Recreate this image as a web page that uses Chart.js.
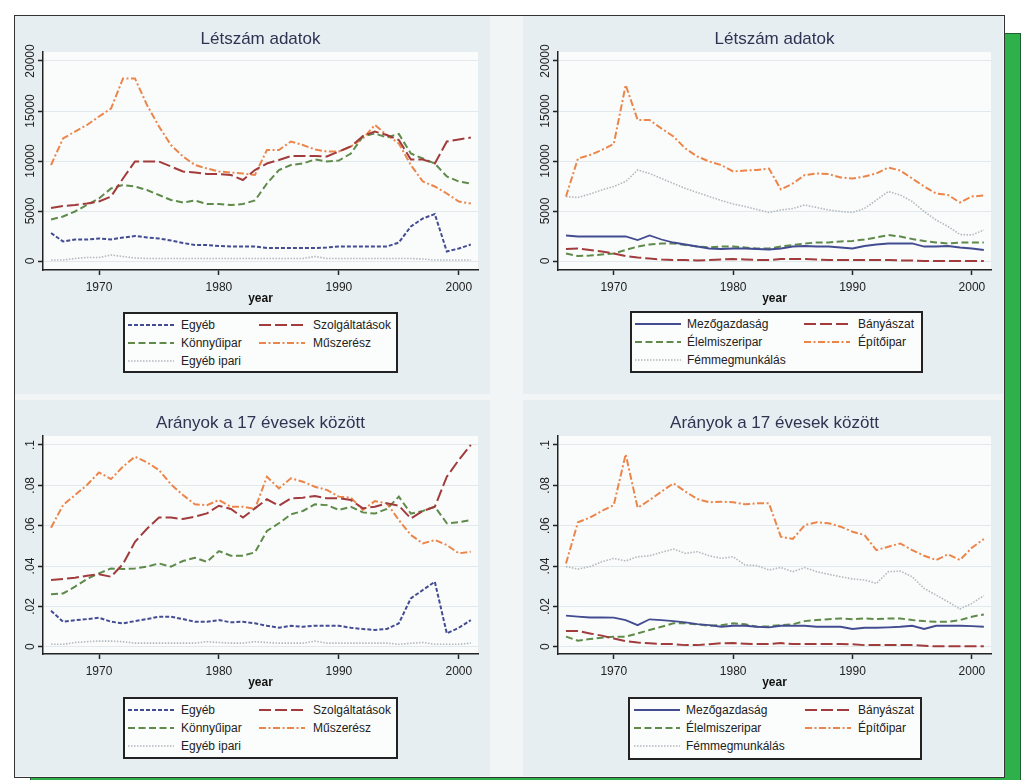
<!DOCTYPE html>
<html><head><meta charset="utf-8">
<script src="https://cdn.jsdelivr.net/npm/chart.js@4.4.1/dist/chart.umd.min.js"></script>
<style>
html,body{margin:0;padding:0;background:#fff;width:1023px;height:780px;overflow:hidden;font-family:'Liberation Sans',Arial,sans-serif;}
#green{position:absolute;left:30px;top:33px;width:991px;height:760px;background:#2eb04b;border:1px solid #1f5f31;box-sizing:border-box;}
#frame{position:absolute;left:14px;top:15px;width:991px;height:763px;background:#f1f5f6;border:1.5px solid #333;box-sizing:border-box;}
.panel{position:absolute;background:#e6eef1;}
.panel canvas{position:absolute;left:0;top:0;}
.legend{position:absolute;background:#fbfcfc;border:2px solid #222;box-sizing:border-box;}
.li{position:absolute;font-size:12px;line-height:14px;height:14px;color:#222;white-space:nowrap;}
.ls{position:absolute;width:46px;height:6px;}
</style>
</head><body>
<div id="green"></div>
<div id="frame"></div>
<div class="panel" id="p1" style="left:15px;top:16px;width:475px;height:378px;"><canvas id="c1" width="475" height="300"></canvas></div>
<div class="panel" id="p2" style="left:523px;top:16px;width:480px;height:378px;"><canvas id="c2" width="480" height="300"></canvas></div>
<div class="panel" id="p3" style="left:15px;top:400px;width:475px;height:376px;"><canvas id="c3" width="475" height="300"></canvas></div>
<div class="panel" id="p4" style="left:523px;top:400px;width:480px;height:376px;"><canvas id="c4" width="480" height="300"></canvas></div>
<script>
// ---------- DATA ----------
const years = [1966,1967,1968,1969,1970,1971,1972,1973,1974,1975,1976,1977,1978,1979,1980,1981,1982,1983,1984,1985,1986,1987,1988,1989,1990,1991,1992,1993,1994,1995,1996,1997,1998,1999,2000,2001];
const xTicks = [1970,1980,1990,2000];
const xTickLabels = ['1970','1980','1990','2000'];
const countTicks = [0,5000,10000,15000,20000];
const countTickLabels = ['0','5000','10000','15000','20000'];
const shareTicks = [0,0.02,0.04,0.06,0.08,0.1];
const shareTickLabels = ['0','.02','.04','.06','.08','.1'];

const titleCount = 'Létszám adatok';
const titleShare = 'Arányok a 17 évesek között';

const namesA = ['Egyéb','Szolgáltatások','Könnyűipar','Műszerész','Egyéb ipari'];
const namesB = ['Mezőgazdaság','Bányászat','Élelmiszeripar','Építőipar','Fémmegmunkálás'];

// Panel 1 – létszám (left)
const egyebCount = [2800,1950,2150,2150,2250,2150,2350,2500,2350,2250,2050,1800,1600,1600,1500,1450,1450,1450,1300,1300,1300,1300,1300,1350,1450,1450,1450,1450,1450,1850,3450,4250,4700,950,1250,1650];
const szolgCount = [5300,5500,5600,5750,5950,6450,8250,9950,9950,9950,9450,8950,8850,8700,8700,8600,8100,9100,9750,10100,10500,10500,10500,10450,10950,11450,12500,12950,12600,12100,10150,10150,9750,11950,12150,12350];
const konnyuCount = [4150,4450,4950,5600,6250,7250,7600,7450,7100,6600,6100,5850,6050,5700,5700,5600,5700,6050,7750,9100,9600,9750,10150,9950,10050,10750,12450,12750,12350,12700,10750,10250,9750,8450,7950,7750];
const muszCount = [9600,12250,12950,13600,14450,15250,18250,18250,15600,13450,11600,10450,9600,9250,8950,8850,8750,8600,11100,11100,11950,11600,11150,10950,10950,11450,12250,13600,12600,11750,9600,7950,7450,6750,5950,5750];
const egyebIpCount = [100,100,250,350,350,600,450,300,250,250,250,250,250,250,250,250,250,250,250,250,250,250,450,250,250,250,250,250,250,250,250,200,100,100,100,100];

// Panel 2 – létszám (right)
const mezoCount = [2550,2450,2450,2450,2450,2450,2100,2550,2150,1850,1650,1450,1250,1200,1250,1250,1200,1150,1250,1450,1500,1450,1450,1350,1250,1500,1650,1750,1750,1750,1450,1450,1500,1350,1250,1100];
const banyaCount = [1200,1250,1100,950,750,500,350,250,150,100,100,50,100,150,200,150,100,100,200,200,200,150,100,100,100,100,100,100,50,50,0,0,0,0,0,0];
const elelmCount = [750,500,550,650,750,1100,1450,1650,1750,1750,1600,1450,1350,1450,1450,1350,1250,1250,1450,1600,1750,1850,1850,1950,2000,2150,2350,2600,2450,2200,2000,1850,1750,1850,1850,1850];
const epitoCount = [6450,10250,10600,11100,11700,17600,14100,14100,13250,12450,11250,10450,9950,9600,8950,9050,9100,9250,7150,7750,8600,8750,8700,8350,8250,8450,8750,9350,9050,8250,7450,6750,6600,5850,6450,6550];
const femmCount = [6450,6350,6700,7100,7450,7950,9100,8750,8250,7750,7250,6850,6450,6050,5700,5450,5150,4850,5100,5250,5600,5350,5100,4950,4850,5250,6100,6950,6600,5950,4950,4100,3450,2650,2600,3100];

// Panel 3 – arányok (left)
const egyebShare = [0.0178,0.0124,0.0132,0.0137,0.0144,0.0124,0.0116,0.0127,0.0137,0.0149,0.0149,0.0137,0.0124,0.0124,0.0132,0.0121,0.0124,0.0116,0.0104,0.0094,0.0104,0.0099,0.0104,0.0104,0.0104,0.0094,0.0088,0.0083,0.0088,0.0116,0.0240,0.0281,0.0322,0.0066,0.0094,0.0132];
const szolgShare = [0.0331,0.0336,0.0342,0.0352,0.0359,0.0347,0.0410,0.0520,0.0585,0.0640,0.0640,0.0633,0.0645,0.0661,0.0699,0.0683,0.0640,0.0686,0.0731,0.0699,0.0736,0.0739,0.0747,0.0736,0.0736,0.0727,0.0686,0.0694,0.0711,0.0699,0.0636,0.0673,0.0694,0.0843,0.0926,0.1000];
const konnyuShare = [0.0260,0.0264,0.0298,0.0336,0.0364,0.0388,0.0385,0.0388,0.0397,0.0413,0.0397,0.0425,0.0441,0.0421,0.0474,0.0451,0.0451,0.0468,0.0574,0.0612,0.0656,0.0673,0.0706,0.0702,0.0678,0.0694,0.0666,0.0660,0.0683,0.0744,0.0660,0.0673,0.0694,0.0612,0.0617,0.0628];
const muszShare = [0.0590,0.0702,0.0752,0.0802,0.0864,0.0831,0.0893,0.0942,0.0914,0.0876,0.0805,0.0752,0.0706,0.0702,0.0727,0.0694,0.0694,0.0683,0.0843,0.0785,0.0835,0.0818,0.0793,0.0777,0.0744,0.0739,0.0678,0.0722,0.0711,0.0628,0.0554,0.0512,0.0529,0.0504,0.0463,0.0471];
const egyebIpShare = [0.0012,0.0012,0.0021,0.0025,0.0028,0.0028,0.0025,0.0018,0.0018,0.0018,0.0018,0.0018,0.0018,0.0025,0.0021,0.0018,0.0018,0.0025,0.0021,0.0018,0.0018,0.0018,0.0028,0.0018,0.0018,0.0018,0.0018,0.0018,0.0018,0.0012,0.0017,0.0021,0.0012,0.0012,0.0012,0.0018];

// Panel 4 – arányok (right)
const mezoShare = [0.0154,0.0149,0.0145,0.0145,0.0144,0.0132,0.0107,0.0136,0.0132,0.0127,0.0121,0.0112,0.0107,0.0099,0.0104,0.0104,0.0099,0.0096,0.0104,0.0104,0.0104,0.0099,0.0099,0.0099,0.0088,0.0094,0.0094,0.0096,0.0099,0.0104,0.0088,0.0104,0.0104,0.0104,0.0102,0.0099];
const banyaShare = [0.0078,0.0078,0.0066,0.0055,0.0041,0.0028,0.0021,0.0017,0.0013,0.0013,0.0008,0.0008,0.0012,0.0017,0.0018,0.0015,0.0013,0.0013,0.0018,0.0013,0.0013,0.0013,0.0013,0.0013,0.0012,0.0008,0.0008,0.0008,0.0008,0.0008,0.0005,0.0002,0.0002,0.0002,0.0002,0.0002];
const elelmShare = [0.0050,0.0030,0.0038,0.0045,0.0050,0.0050,0.0066,0.0083,0.0099,0.0116,0.0116,0.0111,0.0104,0.0107,0.0116,0.0111,0.0099,0.0102,0.0107,0.0111,0.0127,0.0132,0.0136,0.0140,0.0136,0.0140,0.0137,0.0140,0.0140,0.0132,0.0127,0.0124,0.0124,0.0132,0.0149,0.0160];
const epitoShare = [0.0413,0.0617,0.0640,0.0673,0.0702,0.0954,0.0689,0.0727,0.0769,0.0810,0.0769,0.0732,0.0716,0.0719,0.0716,0.0706,0.0711,0.0711,0.0545,0.0534,0.0603,0.0617,0.0612,0.0595,0.0570,0.0554,0.0479,0.0496,0.0512,0.0479,0.0451,0.0430,0.0458,0.0430,0.0491,0.0534];
const femmShare = [0.0397,0.0385,0.0397,0.0421,0.0438,0.0425,0.0446,0.0451,0.0468,0.0484,0.0463,0.0471,0.0451,0.0438,0.0446,0.0405,0.0402,0.0380,0.0393,0.0372,0.0392,0.0372,0.0359,0.0347,0.0336,0.0331,0.0314,0.0372,0.0375,0.0347,0.0289,0.0256,0.0223,0.0187,0.0215,0.0253];

// ---------- STYLES ----------
const FONT = "'Liberation Sans', Arial, sans-serif";
const C_NAVY = '#434c91', C_MAROON = '#a23b3b', C_GREEN = '#5f8a4a', C_ORANGE = '#ec8549', C_GRAY = '#b2b8bd';
const D_SHORT = [4,2], D_LONG = [12,4], D_MED = [7,3.5], D_DASHDOT = [7,2.5,2,2.5], D_DOT = [1.5,1.5], D_SOLID = [];
const stylesA = [
  {color:C_NAVY, dash:D_SHORT, width:2},
  {color:C_MAROON, dash:D_LONG, width:2},
  {color:C_GREEN, dash:D_MED, width:2},
  {color:C_ORANGE, dash:D_DASHDOT, width:2},
  {color:C_GRAY, dash:D_DOT, width:1.6}
];
const stylesB = [
  {color:C_NAVY, dash:D_SOLID, width:1.8},
  {color:C_MAROON, dash:D_LONG, width:2},
  {color:C_GREEN, dash:D_MED, width:2},
  {color:C_ORANGE, dash:D_DASHDOT, width:2},
  {color:C_GRAY, dash:D_DOT, width:1.6}
];

const plotBg = {
  id:'plotBg',
  beforeDraw(chart){
    const {ctx, chartArea:a} = chart;
    ctx.save(); ctx.fillStyle = '#fafcfc';
    ctx.fillRect(a.left, a.top, a.right - a.left, a.bottom - a.top);
    ctx.restore();
  }
};

function tickPad(labels){
  const c = document.createElement('canvas').getContext('2d');
  c.font = '12px ' + FONT;
  let w = 0; labels.forEach(l => { w = Math.max(w, c.measureText(l).width); });
  return 7 - w/2;
}

function buildDatasets(names, series, styles){
  return series.map((vals, k) => ({
    label: names[k],
    data: years.map((yr, i) => ({x: yr, y: vals[i]})),
    borderColor: styles[k].color,
    borderDash: styles[k].dash,
    borderWidth: styles[k].width,
    pointRadius: 0,
    tension: 0,
    fill: false
  }));
}

function makeChart(id, title, datasets, yTicks, yLabels, yMin, yMax, axisW){
  const canvas = document.getElementById(id);
  return new Chart(canvas, {
    type:'line',
    data:{datasets},
    plugins:[plotBg],
    options:{
      responsive:false, animation:false, devicePixelRatio:1,
      layout:{padding:{left:0, right:12, top:0, bottom:0}},
      plugins:{
        legend:{display:false}, tooltip:{enabled:false},
        title:{display:true, text:title, fullSize:false, color:'#2e3452',
          font:{size:17, family:FONT, weight:'normal'}, padding:{top:13, bottom:2.6}}
      },
      scales:{
        x:{type:'linear', min:1965.33, max:2001.6,
          afterBuildTicks: s => { s.ticks = xTicks.map(v => ({value:v})); },
          afterFit: s => { s.height = 46; },
          ticks:{autoSkip:false, maxRotation:0, minRotation:0, padding:5, color:'#222',
            font:{size:12, family:FONT}, callback:(v,i) => xTickLabels[i]},
          grid:{drawOnChartArea:false, tickColor:'#222', tickLength:5, tickWidth:1.5},
          border:{color:'#222', width:1.5},
          title:{display:true, text:'year', color:'#111', font:{size:12, weight:'bold', family:FONT}, padding:{top:0, bottom:10}}
        },
        y:{type:'linear', min:yMin, max:yMax,
          afterBuildTicks: s => { s.ticks = yTicks.map(v => ({value:v})); },
          afterFit: s => { s.width = axisW; },
          ticks:{autoSkip:false, minRotation:90, maxRotation:90, crossAlign:'center', padding:tickPad(yLabels),
            color:'#222', font:{size:12, family:FONT}, callback:(v,i) => yLabels[i]},
          grid:{color:'#e1e9ec', lineWidth:1, tickColor:'#222', tickLength:5, tickWidth:1.5},
          border:{color:'#222', width:1.5}
        }
      }
    }
  });
}

function makeLegend(panelId, chart, box){
  const panel = document.getElementById(panelId);
  const lg = document.createElement('div');
  lg.className = 'legend';
  lg.style.left = box.left + 'px'; lg.style.top = box.top + 'px';
  lg.style.width = box.w + 'px'; lg.style.height = box.h + 'px';
  const rows = [11, 29, 47];
  chart.data.datasets.forEach((ds, i) => {
    const row = Math.floor(i/2), col = i % 2;
    const svgNS = 'http://www.w3.org/2000/svg';
    const svg = document.createElementNS(svgNS, 'svg');
    svg.setAttribute('class','ls'); svg.setAttribute('width','46'); svg.setAttribute('height','6');
    svg.style.left = box.lineX[col] + 'px'; svg.style.top = (rows[row] - 3) + 'px';
    const ln = document.createElementNS(svgNS, 'line');
    ln.setAttribute('x1','0'); ln.setAttribute('y1','3'); ln.setAttribute('x2','46'); ln.setAttribute('y2','3');
    ln.setAttribute('stroke', ds.borderColor); ln.setAttribute('stroke-width', ds.borderWidth);
    if (ds.borderDash.length) ln.setAttribute('stroke-dasharray', ds.borderDash.join(' '));
    svg.appendChild(ln); lg.appendChild(svg);
    const t = document.createElement('div');
    t.className = 'li'; t.textContent = ds.label;
    t.style.left = box.textX[col] + 'px'; t.style.top = (rows[row] - 7) + 'px';
    lg.appendChild(t);
  });
  panel.appendChild(lg);
}

const ch1 = makeChart('c1', titleCount, buildDatasets(namesA, [egyebCount, szolgCount, konnyuCount, muszCount, egyebIpCount], stylesA), countTicks, countTickLabels, -900, 20900, 28);
const ch2 = makeChart('c2', titleCount, buildDatasets(namesB, [mezoCount, banyaCount, elelmCount, epitoCount, femmCount], stylesB), countTicks, countTickLabels, -900, 20900, 35);
const ch3 = makeChart('c3', titleShare, buildDatasets(namesA, [egyebShare, szolgShare, konnyuShare, muszShare, egyebIpShare], stylesA), shareTicks, shareTickLabels, -0.0036, 0.10446, 28);
const ch4 = makeChart('c4', titleShare, buildDatasets(namesB, [mezoShare, banyaShare, elelmShare, epitoShare, femmShare], stylesB), shareTicks, shareTickLabels, -0.0036, 0.10446, 35);

makeLegend('p1', ch1, {left:108, top:296, w:275, h:61, lineX:[3,134], textX:[56,188]});
makeLegend('p2', ch2, {left:107, top:295, w:293, h:62, lineX:[3,172], textX:[55,226]});
makeLegend('p3', ch3, {left:108, top:297, w:275, h:62, lineX:[3,134], textX:[56,188]});
makeLegend('p4', ch4, {left:105, top:297, w:294, h:63, lineX:[4,175], textX:[56,228]});
</script>
</body></html>
